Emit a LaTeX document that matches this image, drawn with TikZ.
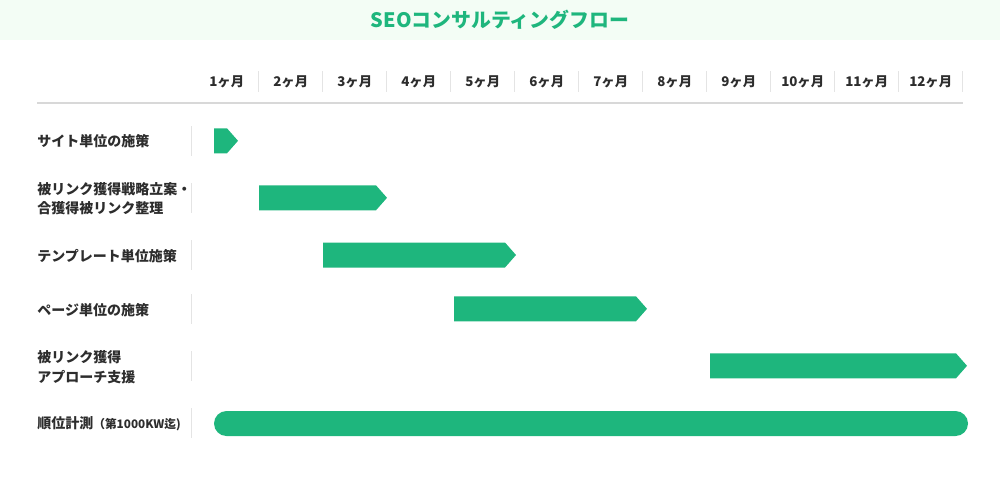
\documentclass[tikz,border=0pt]{standalone}
\usepackage{fontspec}
\setmainfont{Noto Sans CJK JP}
\definecolor{barg}{RGB}{30,182,125}
\definecolor{hdr}{RGB}{243,253,245}
\definecolor{txt}{RGB}{45,45,45}
\definecolor{sepgray}{RGB}{228,228,228}
\definecolor{rulegray}{RGB}{216,216,216}
\begin{document}
\begin{tikzpicture}[x=0.75pt,y=-0.75pt,
  lbl/.style={anchor=west, font=\bfseries\fontsize{10.5}{14.5}\selectfont, text=txt, align=left, inner sep=0},
  mon/.style={font=\bfseries\fontsize{10}{12}\selectfont, text=txt, inner sep=0},
  sep/.style={draw=sepgray, line width=0.75pt},
  bar/.style={fill=barg}]
\useasboundingbox (0,0) rectangle (1000,480);
\fill[hdr] (0,0) rectangle (1000,40);
\node[font=\bfseries\fontsize{14.9}{17}\selectfont, text=barg, inner sep=0] (title) at (500,20) {SEOコンサルティングフロー};
% month header
\foreach \i in {1,...,12}{
  \node[mon] (m\i) at (162.7+64*\i,82) {\i ヶ月};
  \draw[sep] (194.7+64*\i,71) -- (194.7+64*\i,92);
}
\draw[draw=rulegray, line width=1.5pt] (37,102.7) -- (963,102.7);
% row labels
\node[lbl] (r1) at (37,141) {サイト単位の施策};
\node[lbl] (r2) at (37,198.5) {被リンク獲得戦略立案・\\合獲得被リンク整理};
\node[lbl] (r3) at (37,256) {テンプレート単位施策};
\node[lbl] (r4) at (37,310) {ページ単位の施策};
\node[lbl] (r5) at (37,367) {被リンク獲得\\アプローチ支援};
\node[lbl] (r6) at (37,424) {順位計測{\fontsize{8.8}{10}\selectfont（第1000KW迄)}};
\foreach \yc in {141,198,255,309,366,423}{
  \draw[sep] (191.5,\yc-15) -- (191.5,\yc+15);
}
% bars
\foreach \xa/\xb/\yc in {214/238/140.8, 259/387/197.8, 323/516/255, 454/647/308.8, 710/967/365.8}{
  \fill[bar] (\xa,\yc-12.5) -- (\xb-11,\yc-12.5) -- (\xb,\yc) -- (\xb-11,\yc+12.5) -- (\xa,\yc+12.5) -- cycle;
}
\fill[bar, rounded corners=9.375pt] (214,411) rectangle (968,436);
\end{tikzpicture}
\end{document}
